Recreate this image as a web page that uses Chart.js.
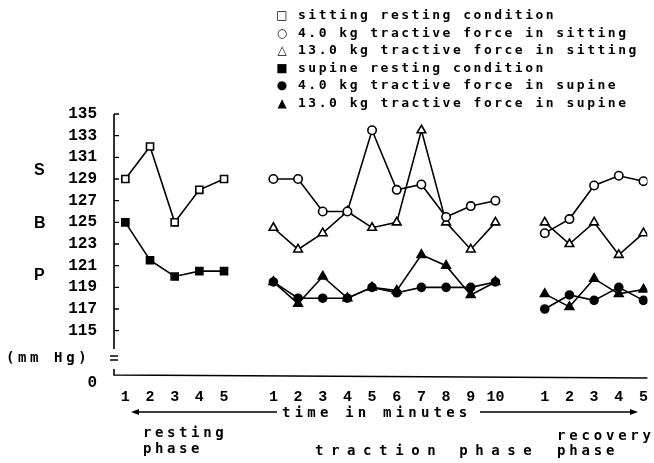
<!DOCTYPE html>
<html>
<head>
<meta charset="utf-8">
<script src="https://cdn.jsdelivr.net/npm/chart.js@4/dist/chart.umd.min.js"></script>
<style>
  html, body { margin: 0; padding: 0; background: #fff; }
  #wrap { position: relative; width: 654px; height: 463px; overflow: hidden; }
  #c { position: absolute; left: 0; top: 0; }
  .t { position: absolute; font-family: 'DejaVu Sans Mono', 'Liberation Mono', monospace; font-weight: bold; color: #000; white-space: pre; line-height: 16px; }
  .leg { position: absolute; left: 0; top: 0; }
  .leg .row { position: absolute; height: 18px; line-height: 18px; }
  .leg .sym { position: absolute; left: 276px; width: 12px; text-align: center; font-family: 'DejaVu Sans', sans-serif; font-size: 12px; font-weight: bold; }
  .leg .txt { position: absolute; left: 298px; font-family: 'DejaVu Sans Mono', 'Liberation Mono', monospace; font-weight: bold; font-size: 13px; letter-spacing: 2.5px; white-space: pre; }
  .big { position: absolute; font-family: 'Liberation Sans', Arial, sans-serif; font-weight: bold; font-size: 16px; line-height: 16px; }
</style>
</head>
<body>
<div id="wrap">
  <canvas id="c" width="654" height="463"></canvas>
  <div class="leg" id="legend"></div>
  <div class="big" style="left:34px; top:162px;">S</div>
  <div class="big" style="left:34px; top:215px;">B</div>
  <div class="big" style="left:34px; top:267px;">P</div>
  <div class="t" style="left:6px; top:349px; font-size:14px; letter-spacing:3.6px;">(mm Hg)</div>
  <div class="t" style="left:282px; top:404px; font-size:14px; letter-spacing:4.2px;">time in minutes</div>
  <div class="t" style="left:143px; top:424px; font-size:14px; letter-spacing:3.6px;">resting</div>
  <div class="t" style="left:143px; top:440px; font-size:14px; letter-spacing:3.6px;">phase</div>
  <div class="t" style="left:315px; top:442px; font-size:14px; letter-spacing:7.6px;">traction phase</div>
  <div class="t" style="left:557px; top:427px; font-size:14px; letter-spacing:3.8px;">recovery</div>
  <div class="t" style="left:557px; top:442px; font-size:14px; letter-spacing:3.8px;">phase</div>
</div>
<script>
// ---------- data ----------
const restingMinutes  = ['1','2','3','4','5'];
const tractionMinutes = ['1','2','3','4','5','6','7','8','9','10'];
const recoveryMinutes = ['1','2','3','4','5'];

const seriesNames = [
  'sitting resting condition',
  '4.0 kg tractive force in sitting',
  '13.0 kg tractive force in sitting',
  'supine resting condition',
  '4.0 kg tractive force in supine',
  '13.0 kg tractive force in supine'
];
const legendSymbols = ['\u25A1', '\u25CB', '\u25B3', '\u25A0', '\u25CF', '\u25B2'];

const sittingRestingRest  = [129, 132, 125, 128, 129];
const supineRestingRest   = [125, 121.5, 120, 120.5, 120.5];

const sit4Traction  = [129, 129, 126, 126, 133.5, 128, 128.5, 125.5, 126.5, 127];
const sit4Recovery  = [124, 125.3, 128.4, 129.3, 128.8];
const sit13Traction = [124.5, 122.5, 124, 126, 124.5, 125, 133.5, 125, 122.5, 125];
const sit13Recovery = [125, 123, 125, 122, 124];

const sup4Traction  = [119.5, 118, 118, 118, 119, 118.5, 119, 119, 119, 119.5];
const sup4Recovery  = [117, 118.3, 117.8, 119, 117.8];
const sup13Traction = [119.5, 117.5, 120, 118, 119, 118.7, 122, 121, 118.3, 119.5];
const sup13Recovery = [118.4, 117.2, 119.8, 118.4, 118.8];

const yTickValues = [115, 117, 119, 121, 123, 125, 127, 129, 131, 133, 135];
const yZeroLabel = '0';

// ---------- build ----------
const xLabels = [...restingMinutes, '', ...tractionMinutes, '', ...recoveryMinutes];
const none = n => Array(n).fill(null);
function series(rest, trac, rec) {
  const vals = [
    ...(rest || none(restingMinutes.length)), null,
    ...(trac || none(tractionMinutes.length)), null,
    ...(rec || none(recoveryMinutes.length))
  ];
  return vals.map((v, i) => ({ x: i, y: v }));
}

const styles = [
  { pointStyle: 'rect', radius: 5, fill: '#fff' },
  { pointStyle: 'circle', radius: 4.2, fill: '#fff' },
  { pointStyle: 'triangle', radius: 5, fill: '#fff' },
  { pointStyle: 'rect', radius: 5, fill: '#000' },
  { pointStyle: 'circle', radius: 4, fill: '#000' },
  { pointStyle: 'triangle', radius: 5, fill: '#000' }
];
const seriesData = [
  series(sittingRestingRest, null, null),
  series(null, sit4Traction, sit4Recovery),
  series(null, sit13Traction, sit13Recovery),
  series(supineRestingRest, null, null),
  series(null, sup4Traction, sup4Recovery),
  series(null, sup13Traction, sup13Recovery)
];
const datasets = seriesData.map((d, i) => ({
  label: seriesNames[i],
  data: d,
  borderColor: '#000',
  borderWidth: 1.6,
  tension: 0,
  spanGaps: false,
  pointStyle: styles[i].pointStyle,
  pointRadius: styles[i].radius,
  pointBackgroundColor: styles[i].fill,
  pointBorderColor: '#000',
  pointBorderWidth: 1.6
}));

// HTML legend
const leg = document.getElementById('legend');
seriesNames.forEach((name, i) => {
  const row = document.createElement('div');
  row.className = 'row';
  row.style.top = (6 + i * 17.6) + 'px';
  row.style.left = '0px';
  row.innerHTML = '<span class="sym">' + legendSymbols[i] + '</span><span class="txt">' + name + '</span>';
  leg.appendChild(row);
});

const Y_MIN = 110.91;
const tickFont = { family: "'Liberation Mono', 'DejaVu Sans Mono', monospace", weight: 'bold', size: 16 };

const axisPlugin = {
  id: 'axisPlugin',
  afterDraw(chart) {
    const { ctx, chartArea: a, scales: { y } } = chart;
    const L = a.left, B = a.bottom;
    ctx.save();
    ctx.strokeStyle = '#000';
    ctx.fillStyle = '#000';
    ctx.lineWidth = 1.6;
    ctx.beginPath();
    ctx.moveTo(L, y.getPixelForValue(135));
    ctx.lineTo(L, B - 26);
    ctx.moveTo(L, B - 6);
    ctx.lineTo(L, B);
    ctx.lineTo(a.right, B + 3);
    ctx.stroke();
    // axis break "="
    ctx.lineWidth = 1.3;
    ctx.beginPath();
    ctx.moveTo(L - 4, B - 19); ctx.lineTo(L + 4, B - 19);
    ctx.moveTo(L - 4, B - 15); ctx.lineTo(L + 4, B - 15);
    ctx.stroke();
    // inward tick marks
    ctx.beginPath();
    yTickValues.forEach(v => {
      const py = y.getPixelForValue(v);
      ctx.moveTo(L, py); ctx.lineTo(L + 5, py);
    });
    ctx.stroke();
    // arrows
    const ay = 412;
    ctx.lineWidth = 1.5;
    ctx.beginPath();
    ctx.moveTo(137, ay); ctx.lineTo(277, ay);
    ctx.moveTo(480, ay); ctx.lineTo(631, ay);
    ctx.stroke();
    ctx.beginPath();
    ctx.moveTo(131, ay); ctx.lineTo(139, ay - 3); ctx.lineTo(139, ay + 3); ctx.closePath();
    ctx.moveTo(638, ay); ctx.lineTo(630, ay - 3); ctx.lineTo(630, ay + 3); ctx.closePath();
    ctx.fill();
    ctx.restore();
  }
};

new Chart(document.getElementById('c'), {
  type: 'line',
  data: { datasets },
  options: {
    responsive: false,
    animation: false,
    devicePixelRatio: 1,
    layout: { padding: { top: 114, left: 0, right: 0, bottom: 0 } },
    plugins: { legend: { display: false }, tooltip: { enabled: false } },
    scales: {
      x: {
        type: 'linear',
        min: -0.46,
        max: 21.16,
        afterFit: s => { s.height = 88; s.paddingLeft = 0; s.paddingRight = 0; },
        afterBuildTicks: s => {
          s.ticks = xLabels.map((l, i) => ({ value: i, label: l })).filter(t => t.label !== '').map(t => ({ value: t.value }));
        },
        ticks: {
          autoSkip: false, maxRotation: 0, minRotation: 0, padding: 13,
          color: '#000', font: { ...tickFont, size: 15 },
          callback: v => xLabels[Math.round(v)]
        },
        grid: { display: false, drawTicks: false },
        border: { display: false }
      },
      y: {
        type: 'linear',
        min: Y_MIN,
        max: 135,
        afterFit: s => { s.width = 114; },
        afterBuildTicks: s => {
          s.ticks = [{ value: Y_MIN - 0.74 }, ...yTickValues.map(v => ({ value: v }))];
        },
        ticks: {
          autoSkip: false, padding: 17, color: '#000', font: tickFont,
          callback: v => (v < 114 ? yZeroLabel : String(v))
        },
        grid: { display: false, drawTicks: false },
        border: { display: false }
      }
    }
  },
  plugins: [axisPlugin]
});
</script>
</body>
</html>
